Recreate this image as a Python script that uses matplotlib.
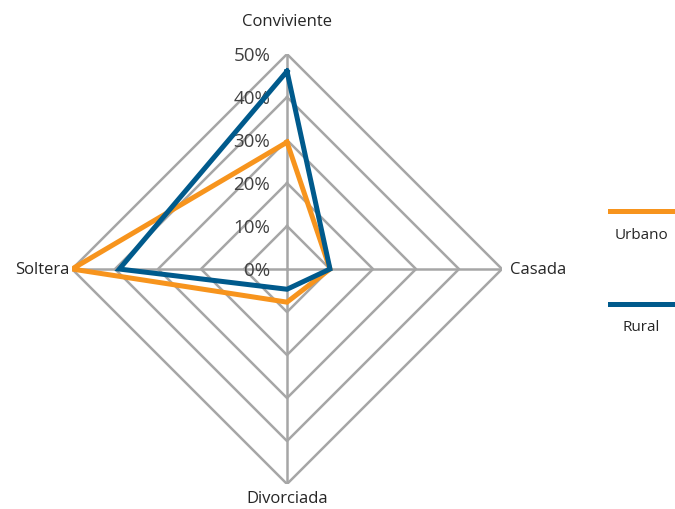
import numpy as np
import matplotlib.pyplot as plt
from matplotlib.lines import Line2D

categorias = ['Conviviente', 'Casada', 'Divorciada', 'Soltera']
urbano = [29.5, 10, 7.7, 50]
rural = [46, 10, 4.7, 39]
anillos = [0, 10, 20, 30, 40, 50]
etiquetas = ['0%', '10%', '20%', '30%', '40%', '50%']

naranja = '#F7941D'
azul = '#005A8C'
gris = '#A6A6A6'
texto = '#262626'

plt.rcParams['font.family'] = ['Open Sans', 'DejaVu Sans']

fig = plt.figure(figsize=(6.75, 5.1), dpi=100)
ax = fig.add_axes([0.1067, 0.049, 0.637, 0.843], projection='polar')
ax.set_theta_offset(np.pi / 2)
ax.set_theta_direction(-1)
ax.set_ylim(0, 50)
ax.grid(False)
ax.spines['polar'].set_visible(False)
ax.set_xticks([])
ax.set_yticks([])
ax.patch.set_alpha(0)

ang = np.linspace(0, 2 * np.pi, len(categorias), endpoint=False)
ang_c = np.append(ang, ang[0])

# polygon grid
for r in anillos[1:]:
    ax.plot(ang_c, [r] * len(ang_c), color=gris, lw=1.8, zorder=1)
for a in ang:
    ax.plot([a, a], [0, 50], color=gris, lw=1.8, zorder=1)

ax.plot(ang_c, urbano + [urbano[0]], color=naranja, lw=3.6, zorder=3,
        solid_joinstyle='miter')
ax.plot(ang_c, rural + [rural[0]], color=azul, lw=3.6, zorder=4,
        solid_joinstyle='miter')

# radial labels
for r, t in zip(anillos, etiquetas):
    ax.annotate(t, xy=(0, r), xytext=(-12, -1), textcoords='offset points',
                ha='right', va='center', fontsize=13.5, color='#404040')

# category labels
offs = [(0, 18, 'center', 'bottom'), (6, 0, 'left', 'center'),
        (0, -4, 'center', 'top'), (-2, 0, 'right', 'center')]
for a, c, (dx, dy, ha, va) in zip(ang, categorias, offs):
    ax.annotate(c, xy=(a, 50), xytext=(dx, dy), textcoords='offset points',
                ha=ha, va=va, fontsize=12, color=texto)

# legend
for y, col, lab in [(0.584, naranja, 'Urbano'), (0.402, azul, 'Rural')]:
    fig.add_artist(Line2D([0.903, 1.0], [y, y], color=col, lw=3.6,
                          transform=fig.transFigure))
    fig.text(0.95, y - 0.045, lab, ha='center', va='center', fontsize=11,
             color=texto)

fig.savefig('out.png', dpi=100)
